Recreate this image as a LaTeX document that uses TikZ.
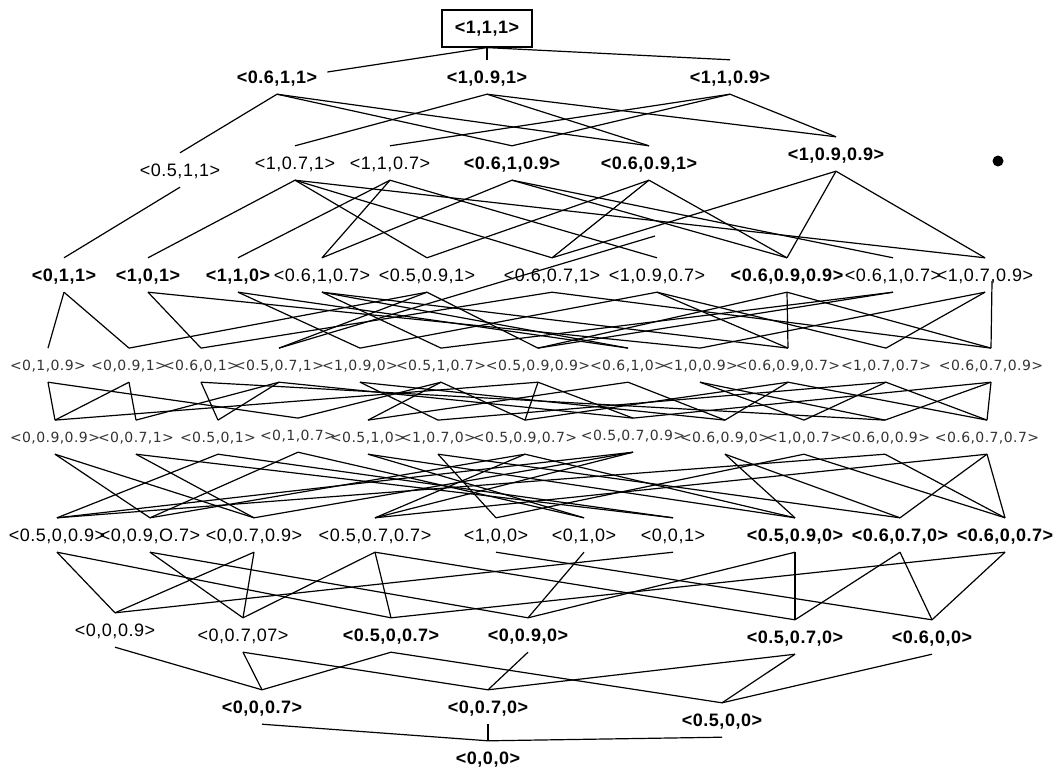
\documentclass[tikz,border=0pt]{standalone}
\usepackage{fontspec}
\setmainfont{Liberation Sans}
\newfontfamily\labfont[LetterSpace=3]{Liberation Sans}
\newfontfamily\smfont[LetterSpace=3]{DejaVu Sans}
\tikzset{
  lab/.style={anchor=base,inner sep=0pt,text height=23pt,text depth=11pt,font=\labfont\fontsize{18}{21}\selectfont},
  labb/.style={lab,font=\labfont\bfseries\fontsize{18}{21}\selectfont},
  lsm/.style={anchor=base,inner sep=0pt,text height=21.7pt,text depth=12pt,text=black!80,font=\smfont\fontsize{14}{16}\selectfont},
  topbox/.style={draw,line width=1.2pt,inner sep=0pt,minimum width=90pt,minimum height=37pt,font=\labfont\bfseries\fontsize{18}{21}\selectfont},
  link/.style={line width=1.2pt}
}
\begin{document}
\begin{tikzpicture}[x=1pt,y=-1pt]
\useasboundingbox (0,0) rectangle (1059,774);

% top
\node[topbox] (n111) at (487,28.5) {<1,1,1>};

\node[labb] (n611) at (277,83) {<0.6,1,1>};
\node[labb] (n191) at (487,83) {<1,0.9,1>};
\node[labb] (n119) at (730,83) {<1,1,0.9>};

\node[lab] (n511) at (180,176) {<0.5,1,1>};
\node[lab] (n171) at (295,169) {<1,0.7,1>};
\node[lab] (n117) at (390,169) {<1,1,0.7>};
\node[labb] (n619) at (512,169) {<0.6,1,0.9>};
\node[labb] (n691) at (649,169) {<0.6,0.9,1>};
\node[labb] (n199) at (836,160) {<1,0.9,0.9>};
\node[circle,fill,inner sep=0pt,minimum size=11pt] (dot) at (998,161) {};

\node[labb] (n011) at (64,281) {<0,1,1>};
\node[labb] (n101) at (148,281) {<1,0,1>};
\node[labb] (n110) at (238,281) {<1,1,0>};
\node[lab] (n617) at (322,281) {<0.6,1,0.7>};
\node[lab] (n591) at (427,281) {<0.5,0.9,1>};
\node[lab] (n671) at (552,281) {<0.6,0.7,1>};
\node[lab] (n197) at (657,281) {<1,0.9,0.7>};
\node[labb] (n699) at (787,281) {<0.6,0.9,0.9>};
\node[lab] (n519) at (893,281) {<0.6,1,0.7>};
\node[lab] (n179) at (985,281) {<1,0.7,0.9>};

\node[lsm] (n019) at (48,370) {<0,1,0.9>};
\node[lsm] (n091) at (129,370) {<0,0.9,1>};
\node[lsm] (n601) at (201,370) {<0.6,0,1>};
\node[lsm] (n571) at (279,370) {<0.5,0.7,1>};
\node[lsm] (n190) at (360,370) {<1,0.9,0>};
\node[lsm] (n517) at (441,370) {<0.5,1,0.7>};
\node[lsm] (n599) at (538,370) {<0.5,0.9,0.9>};
\node[lsm] (n610) at (628,370) {<0.6,1,0>};
\node[lsm] (n109) at (700,370) {<1,0,0.9>};
\node[lsm] (n697) at (788,370) {<0.6,0.9,0.7>};
\node[lsm] (n177) at (886,370) {<1,0.7,0.7>};
\node[lsm] (n679) at (991,370) {<0.6,0.7,0.9>};

\node[lsm] (n099) at (55,442) {<0,0.9,0.9>};
\node[lsm] (n071) at (136,442) {<0,0.7,1>};
\node[lsm] (n501) at (218,442) {<0.5,0,1>};
\node[lsm] (n017) at (298,440) {<0,1,0.7>};
\node[lsm] (n510) at (368,442) {<0.5,1,0>};
\node[lsm] (n170) at (438,442) {<1,0.7,0>};
\node[lsm] (n597) at (525,442) {<0.5,0.9,0.7>};
\node[lsm] (n579) at (633,440) {<0.5,0.7,0.9>};
\node[lsm] (n690) at (725,442) {<0.6,0.9,0>};
\node[lsm] (n107) at (804,442) {<1,0,0.7>};
\node[lsm] (n609) at (885,442) {<0.6,0,0.9>};
\node[lsm] (n677) at (987,442) {<0.6,0.7,0.7>};

\node[lab] (n509) at (57,541) {<0.5,0,0.9>};
\node[lab] (n097) at (150,541) {<0,0.9,O.7>};
\node[lab] (n079) at (254,541) {<0,0.7,0.9>};
\node[lab] (n577) at (375,541) {<0.5,0.7,0.7>};
\node[lab] (n100) at (496,541) {<1,0,0>};
\node[lab] (n010) at (584,541) {<0,1,0>};
\node[lab] (n001) at (673,541) {<0,0,1>};
\node[labb] (n590) at (795,541) {<0.5,0.9,0>};
\node[labb] (n670) at (900,541) {<0.6,0.7,0>};
\node[labb] (n607) at (1005,541) {<0.6,0,0.7>};

\node[lab] (n009) at (115,636) {<0,0,0.9>};
\node[lab] (n077) at (243,641) {<0,0.7,07>};
\node[labb] (n507) at (391,641) {<0.5,0,0.7>};
\node[labb] (n090) at (528,641) {<0,0.9,0>};
\node[labb] (n570) at (795,643) {<0.5,0.7,0>};
\node[labb] (n600) at (932,643) {<0.6,0,0>};

\node[labb] (n007) at (262,713) {<0,0,0.7>};
\node[labb] (n070) at (488,713) {<0,0.7,0>};
\node[labb] (n500) at (722,726) {<0.5,0,0>};

\node[labb] (n000) at (488,764) {<0,0,0>};

% lines
\coordinate (c197) at (655,236);
\draw[link] (n111.south) -- ([xshift=10pt,yshift=5pt]n611.east);
\draw[link] ([xshift=7pt]n179.base) -- (n679.north);
\draw[link] (c197) -- (n571.north);

\foreach \a/\b in {n111/n191,n111/n119,
  n611/n511,n611/n691,n611/n619,n191/n171,n191/n691,n191/n199,n119/n117,n119/n619,n119/n199,
  n511/n011,n171/n101,n171/n591,n171/n671,n171/n179,n117/n110,n117/n617,n117/n197,
  n619/n617,n619/n699,n619/n519,n691/n591,n691/n671,n691/n699,n199/n699,n199/n179,n199/n671,
  n011/n091,n011/n019,n101/n601,n101/n109,n110/n610,n110/n190,n617/n517,n617/n697,n617/n610,
  n591/n091,n591/n571,n591/n599,n671/n601,n671/n679,n197/n697,n197/n177,n197/n190,
  n699/n599,n699/n679,n699/n697,n519/n599,n519/n517,n179/n109,n179/n177,
  n019/n099,n019/n017,n091/n071,n091/n099,n601/n501,n601/n609,n571/n071,n571/n501,n571/n579,
  n190/n690,n190/n170,n517/n017,n517/n597,n517/n510,n599/n099,n599/n579,n599/n597,
  n610/n510,n610/n690,n109/n609,n109/n107,n697/n597,n697/n677,n697/n690,
  n177/n677,n177/n107,n177/n170,n679/n579,n679/n609,n679/n677,
  n099/n079,n099/n097,n071/n001,n071/n079,n501/n001,n501/n509,n017/n097,n017/n010,
  n510/n010,n510/n590,n170/n670,n170/n100,n597/n097,n597/n577,n597/n590,
  n579/n079,n579/n509,n579/n577,n690/n590,n690/n670,n107/n607,n107/n100,
  n609/n509,n609/n607,n677/n577,n677/n607,n677/n670,
  n509/n009,n509/n507,n097/n077,n097/n090,n079/n009,n079/n077,n577/n077,n577/n507,n577/n570,
  n100/n600,n010/n090,n001/n009,n590/n090,n590/n570,n670/n570,n670/n600,n607/n507,n607/n600,
  n009/n007,n077/n007,n077/n070,n507/n007,n507/n500,n090/n070,n570/n070,n570/n500,n600/n500,
  n007/n000,n070/n000,n500/n000}
  \draw[link] (\a.south) -- (\b.north);
\end{tikzpicture}
\end{document}
